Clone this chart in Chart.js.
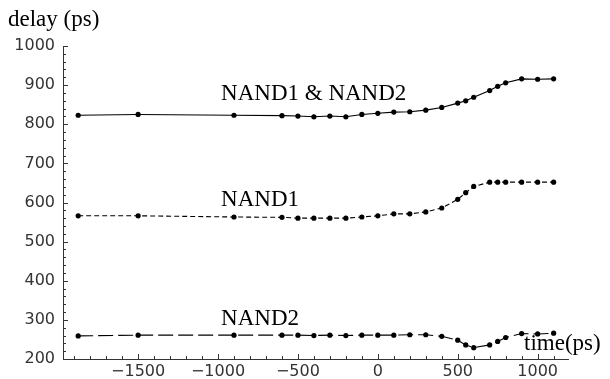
<!DOCTYPE html>
<html>
<head>
<meta charset="utf-8">
<script src="https://cdn.jsdelivr.net/npm/chart.js@4.4.1/dist/chart.umd.min.js"></script>
<style>
  html,body{margin:0;padding:0;background:#fff}
  #wrap{width:610px;height:379px;position:relative}
</style>
</head>
<body>
<div id="wrap"><canvas id="chart"></canvas></div>
<script>
// 数据
const timePs = [-1875,-1500,-900,-600,-500,-400,-300,-200,-100,0,100,200,300,400,500,550,600,700,750,800,900,1000,1100];
const delayBoth  = [823,825,823,822,821,819,821,819,825,828,831,832,836,843,854,860,869,886,897,906,916,915,916];
const delayNand1 = [566,566,563,562,560,560,560,560,563,566,571,571,576,586,608,625,641,652,652,652,652,652,652];
const delayNand2 = [259,261,261,261,261,260,261,260,261,261,261,262,262,258,248,236,229,236,245,255,265,264,266];
const xTicks = [-1500,-1000,-500,0,500,1000];
const yTicks = [200,300,400,500,600,700,800,900,1000];
const curveNames = ["NAND1 & NAND2","NAND1","NAND2"];

const pts = ys => timePs.map((t,i)=>({x:t, y:ys[i]}));

const serif = '23px "Liberation Serif", "DejaVu Serif", serif';

// 内向刻度 + 文字标注
const decor = {
  id:"decor",
  afterDraw(chart){
    const {ctx, chartArea:a, scales:{x, y}} = chart;
    ctx.save();
    ctx.strokeStyle = "#333"; ctx.lineWidth = 1;
    ctx.beginPath();
    for(let v=200; v<=1000; v+=20){
      const py = Math.round(y.getPixelForValue(v)) + .5;
      ctx.moveTo(a.left, py); ctx.lineTo(a.left + (v%100===0 ? 5 : 3), py);
    }
    for(let v=-1900; v<=1100; v+=100){
      const px = Math.round(x.getPixelForValue(v)) + .5;
      ctx.moveTo(px, a.bottom); ctx.lineTo(px, a.bottom - (v%500===0 ? 5 : 3));
    }
    ctx.stroke();

    ctx.fillStyle = "#000"; ctx.font = serif; ctx.textBaseline = "alphabetic"; ctx.textAlign = "left";
    ctx.fillText("delay (ps)", 8, 26);
    ctx.fillText("time(ps)", 524, 350);
    // 曲线名称（数据坐标）
    const notes = [[-981, 861], [-981, 591], [-981, 288]];
    notes.forEach(([tx,ty],i)=> ctx.fillText(curveNames[i], x.getPixelForValue(tx), y.getPixelForValue(ty)));
    ctx.restore();
  }
};

const line = (label, ys, dash) => ({
  label, data:pts(ys),
  borderColor:"#000", backgroundColor:"#000", borderWidth:1.1, borderDash:dash,
  pointRadius:2.6, pointBackgroundColor:"#000", pointBorderWidth:0, tension:0,
});

new Chart(document.getElementById("chart"), {
  type:"line",
  data:{ datasets:[
    line(curveNames[0], delayBoth, []),
    line(curveNames[1], delayNand1, [5,3]),
    line(curveNames[2], delayNand2, [15,5]),
  ]},
  options:{
    responsive:true, maintainAspectRatio:false, animation:false,
    layout:{ padding:{ top:46, right:42, left:0, bottom:0 } },
    plugins:{ legend:{display:false}, tooltip:{enabled:false} },
    scales:{
      x:{
        type:"linear", min:-1970, max:1190,
        grid:{display:false, drawTicks:false},
        border:{display:true, color:"#333", width:1},
        afterBuildTicks:s=>{ s.ticks = xTicks.map(v=>({value:v})); },
        afterFit:s=>{ s.height = 20; },
        ticks:{ color:"#333", font:{family:"DejaVu Sans", size:16}, padding:3, maxRotation:0,
                callback:v=>String(v).replace("-","\u2212") },
      },
      y:{
        min:200, max:1000,
        grid:{display:false, drawTicks:false},
        border:{display:true, color:"#333", width:1},
        afterBuildTicks:s=>{ s.ticks = yTicks.map(v=>({value:v})); },
        afterFit:s=>{ s.width = 63; },
        ticks:{ color:"#333", font:{family:"DejaVu Sans", size:16}, padding:8, callback:v=>String(v) },
      },
    },
  },
  plugins:[decor],
});
</script>
</body>
</html>
